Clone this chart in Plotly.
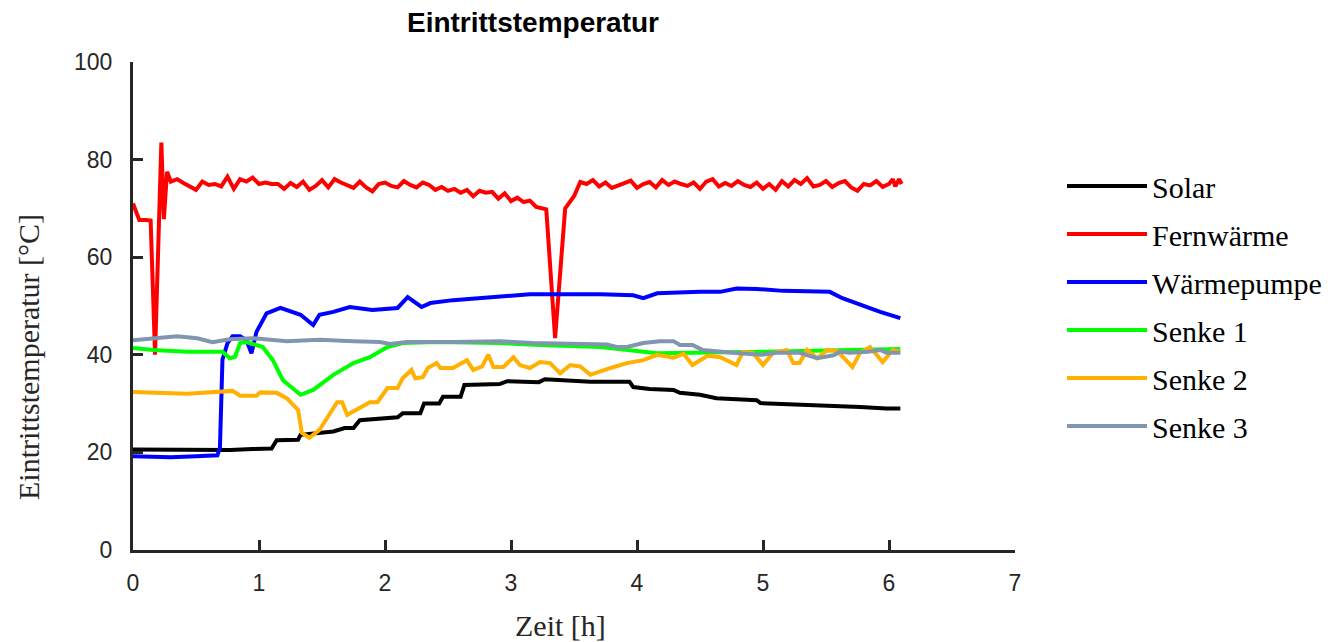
import plotly.graph_objects as go

# ---------------- data ----------------
solar_t = [0, 0.77, 0.95, 1.10, 1.14, 1.31, 1.33, 1.48, 1.59, 1.68, 1.75, 1.80, 2.00, 2.10, 2.14, 2.28,
           2.31, 2.43, 2.46, 2.60, 2.63, 2.91, 2.97, 3.22, 3.27, 3.63, 3.94, 3.97, 4.10, 4.29, 4.34,
           4.50, 4.63, 4.95, 4.98, 5.43, 5.77, 5.98, 6.09]
solar_v = [20.6, 20.5, 20.7, 20.8, 22.5, 22.6, 23.6, 24.0, 24.3, 25.0, 25.0, 26.6, 27.0, 27.2, 28.0, 28.0,
           30.0, 30.0, 31.4, 31.4, 33.8, 34.0, 34.6, 34.4, 35.0, 34.5, 34.5, 33.4, 33.0, 32.8, 32.2,
           31.8, 31.1, 30.7, 30.1, 29.7, 29.3, 29.0, 29.0]

fern_t = [0, 0.05, 0.10, 0.14, 0.175, 0.225, 0.245, 0.27, 0.30, 0.35, 0.40, 0.45, 0.50, 0.55, 0.60,
          0.65, 0.70, 0.75, 0.80, 0.85, 0.90, 0.95, 1.00, 1.05, 1.10, 1.15, 1.20, 1.25, 1.30, 1.35,
          1.40, 1.45, 1.50, 1.55, 1.60, 1.65, 1.70, 1.75, 1.80, 1.85, 1.90, 1.95, 2.00, 2.05, 2.10,
          2.15, 2.20, 2.25, 2.30, 2.35, 2.40, 2.45, 2.50, 2.55, 2.60, 2.65, 2.70, 2.75, 2.80, 2.85,
          2.90, 2.95, 3.00, 3.05, 3.10, 3.15, 3.20, 3.25, 3.28, 3.35, 3.43, 3.50, 3.55, 3.60, 3.65,
          3.70, 3.75, 3.80, 3.85, 3.90, 3.95, 4.00, 4.05, 4.10, 4.15, 4.20, 4.25, 4.30, 4.35, 4.40,
          4.45, 4.50, 4.55, 4.60, 4.65, 4.70, 4.75, 4.80, 4.85, 4.90, 4.95, 5.00, 5.05, 5.10, 5.15,
          5.20, 5.25, 5.30, 5.35, 5.40, 5.45, 5.50, 5.55, 5.60, 5.65, 5.70, 5.75, 5.80, 5.85, 5.90,
          5.95, 6.00, 6.03, 6.05, 6.08, 6.10]
fern_v = [71.0, 67.6, 67.6, 67.5, 40.0, 83.5, 67.8, 77.5, 75.5, 76.0, 75.2, 74.5, 73.8, 75.5, 74.8,
          75.0, 74.5, 76.5, 74.0, 76.0, 75.5, 76.3, 75.0, 75.3, 75.0, 75.0, 74.0, 75.2, 74.4, 75.5,
          73.8, 74.6, 75.8, 74.3, 76.0, 75.3, 74.8, 74.2, 75.5, 74.3, 73.5, 75.0, 75.3, 74.6, 74.3,
          75.6, 74.8, 74.3, 75.3, 74.8, 73.8, 74.4, 73.6, 74.0, 73.2, 73.8, 72.5, 73.6, 73.2, 73.4,
          72.0, 73.1, 71.5, 72.2, 71.3, 71.6, 70.3, 70.0, 69.8, 43.4, 70.0, 72.5, 75.4, 75.0, 75.8,
          74.5, 75.3, 74.2, 74.6, 75.2, 75.7, 74.2, 75.0, 75.4, 74.3, 75.8, 74.8, 75.5, 75.0, 74.6,
          75.3, 74.0, 75.5, 76.0, 74.5, 75.2, 74.6, 75.6, 74.8, 74.4, 75.3, 74.0, 75.0, 73.8, 75.6,
          74.5, 75.8, 75.0, 76.2, 74.5, 74.8, 75.6, 74.4, 75.2, 75.6, 74.3, 73.6, 75.0, 74.7, 75.6,
          74.4, 75.0, 76.0, 74.5, 76.0, 75.0]

wp_t = [0, 0.30, 0.50, 0.67, 0.69, 0.71, 0.75, 0.79, 0.85, 0.90, 0.94, 0.98, 1.06, 1.17, 1.33, 1.43,
        1.48, 1.59, 1.72, 1.90, 2.10, 2.18, 2.29, 2.36, 2.54, 2.81, 3.07, 3.15, 3.71, 3.97, 4.05,
        4.16, 4.50, 4.66, 4.79, 4.95, 5.16, 5.53, 5.63, 5.77, 5.93, 6.09]
wp_v = [19.2, 19.0, 19.2, 19.4, 21.0, 39.0, 42.4, 43.8, 43.8, 43.0, 40.3, 44.7, 48.5, 49.6, 48.2, 46.1,
        48.2, 48.8, 49.8, 49.2, 49.6, 51.8, 49.8, 50.6, 51.2, 51.8, 52.3, 52.4, 52.4, 52.2, 51.6,
        52.6, 52.9, 52.9, 53.6, 53.5, 53.1, 52.9, 51.6, 50.2, 48.8, 47.5]

s1_t = [0, 0.16, 0.43, 0.71, 0.77, 0.81, 0.85, 0.90, 1.03, 1.11, 1.19, 1.33, 1.43, 1.59, 1.75, 1.88,
        2.02, 2.14, 2.41, 2.91, 3.23, 3.71, 4.16, 5.00, 6.09]
s1_v = [41.4, 41.0, 40.6, 40.6, 39.3, 39.6, 42.4, 42.6, 41.6, 38.9, 34.8, 31.8, 32.8, 35.9, 38.3, 39.5,
        41.6, 42.4, 42.6, 42.4, 42.0, 41.6, 40.3, 40.6, 41.2]

s2_t = [0, 0.21, 0.43, 0.79, 0.85, 0.98, 1.01, 1.14, 1.22, 1.31, 1.34, 1.40, 1.48, 1.62, 1.66, 1.70,
        1.80, 1.88, 1.94, 2.02, 2.10, 2.14, 2.21, 2.24, 2.30, 2.34, 2.41, 2.44, 2.54, 2.65, 2.70,
        2.77, 2.82, 2.86, 2.94, 3.02, 3.07, 3.15, 3.23, 3.31, 3.39, 3.47, 3.55, 3.63, 3.79, 3.92,
        4.05, 4.16, 4.29, 4.37, 4.44, 4.56, 4.66, 4.79, 4.84, 4.92, 5.00, 5.08, 5.19, 5.24, 5.29,
        5.35, 5.43, 5.51, 5.59, 5.71, 5.77, 5.85, 5.95, 6.03, 6.09]
s2_v = [32.4, 32.2, 32.0, 32.6, 31.6, 31.6, 32.3, 32.2, 31.1, 28.7, 24.0, 23.0, 24.6, 30.3, 30.3, 27.7,
        29.1, 30.3, 30.3, 33.2, 33.2, 35.2, 36.9, 35.2, 35.4, 37.3, 38.3, 37.3, 37.3, 38.9, 36.9,
        37.6, 40.0, 37.5, 37.5, 39.5, 37.9, 37.3, 38.5, 38.3, 36.2, 37.9, 37.6, 35.9, 37.3, 38.3,
        38.9, 40.0, 39.4, 40.2, 37.9, 39.8, 39.5, 37.9, 40.6, 40.4, 37.9, 40.4, 41.0, 38.3, 38.3,
        41.0, 39.3, 41.0, 40.8, 37.5, 40.4, 41.6, 38.5, 41.0, 40.6]

s3_t = [0, 0.35, 0.51, 0.63, 0.77, 0.95, 1.22, 1.48, 1.75, 1.96, 2.04, 2.17, 2.54, 2.91, 3.17, 3.44,
        3.76, 3.84, 3.92, 4.05, 4.18, 4.29, 4.34, 4.44, 4.52, 4.76, 4.98, 5.11, 5.29, 5.43, 5.56,
        5.61, 5.69, 5.83, 5.93, 5.98, 6.09]
s3_v = [43.0, 43.8, 43.4, 42.6, 43.2, 43.4, 42.8, 43.1, 42.8, 42.6, 42.2, 42.6, 42.6, 42.8, 42.4, 42.2,
        42.1, 41.6, 41.6, 42.4, 42.8, 42.8, 42.0, 42.0, 41.0, 40.4, 40.0, 40.4, 40.4, 39.3, 39.9,
        40.6, 40.4, 40.6, 41.0, 40.4, 40.4]

series_names = ["Solar", "Fernwärme", "Wärmepumpe", "Senke 1", "Senke 2", "Senke 3"]
series_t = [solar_t, fern_t, wp_t, s1_t, s2_t, s3_t]
series_v = [solar_v, fern_v, wp_v, s1_v, s2_v, s3_v]
series_colors = ["#000000", "#FF0000", "#0000FF", "#00FF00", "#FFB000", "#8096B0"]

x_ticks = [0, 1, 2, 3, 4, 5, 6, 7]
y_ticks = [0, 20, 40, 60, 80, 100]

# ---------------- figure ----------------
fig = go.Figure()
for name, t, v, c in zip(series_names, series_t, series_v, series_colors):
    fig.add_trace(go.Scatter(x=t, y=v, mode="lines", name=name, legendgroup=name,
                             line=dict(color=c, width=4)))

axis_common = dict(showline=True, linecolor="#262626", linewidth=3, ticks="inside",
                   ticklen=10, tickwidth=3, tickcolor="#262626", showgrid=False, zeroline=False,
                   automargin=False,
                   tickfont=dict(family="Liberation Sans, Arial", size=23, color="#262626"))

serif = dict(family="Liberation Serif, Times New Roman", size=30, color="#262626")

# page body has an 8px margin, so the figure is sized to fit the window
W, H = 1330, 634
fig.update_layout(
    width=W, height=H,
    paper_bgcolor="white", plot_bgcolor="white",
    margin=dict(l=125, r=W - 125 - 882, t=54, b=H - 54 - 488, autoexpand=False),
    title=dict(text="<b>Eintrittstemperatur</b>", x=525 / W, xanchor="center",
               y=1 - 14 / H, yanchor="middle",
               font=dict(family="Liberation Sans, Arial", size=28, color="black")),
    xaxis=dict(range=[0, 7], tickvals=x_ticks, ticklabelstandoff=10, **axis_common),
    yaxis=dict(range=[0, 100], tickvals=y_ticks, ticklabelstandoff=13, **axis_common),
    legend=dict(x=(1062 - 133) / 882, y=(550 - 160) / 488, xanchor="left", yanchor="top",
                font=dict(family="Liberation Serif, Times New Roman", size=30, color="black"),
                itemwidth=80, tracegroupgap=6, bgcolor="rgba(0,0,0,0)"),
    showlegend=True,
    annotations=[
        dict(text="Zeit [h]", xref="paper", yref="paper", x=(560 - 133) / 882, y=(550 - 625) / 488,
             xanchor="center", yanchor="middle", showarrow=False, font=serif),
        dict(text="Eintrittstemperatur [°C]", xref="paper", yref="paper", x=(28 - 133) / 882,
             y=(550 - 357) / 488, xanchor="center", yanchor="middle", textangle=-90,
             showarrow=False, font=serif),
    ],
)

fig.write_html("out.html")
